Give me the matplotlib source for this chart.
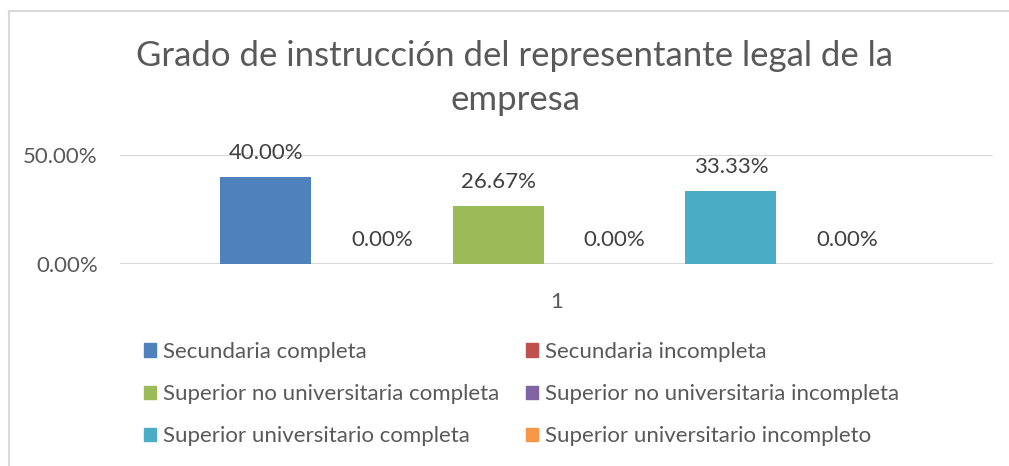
import matplotlib
matplotlib.use('Agg')
import matplotlib.pyplot as plt
from matplotlib.lines import Line2D
from matplotlib.patches import Patch
import numpy as np

plt.rcParams['font.family'] = ['Lato', 'DejaVu Sans']

titulo = "Grado de instrucción del representante legal de la\nempresa"
categorias = ["1"]
series = ["Secundaria completa", "Secundaria incompleta",
          "Superior no universitaria completa", "Superior no universitaria incompleta",
          "Superior universitario completa", "Superior universitario incompleto"]
valores = [0.40, 0.0, 0.2667, 0.0, 0.3333, 0.0]
colores = ["#4f81bd", "#c0504d", "#9bbb59", "#8064a2", "#4bacc6", "#f79646"]
yticks = [0.0, 0.5]

W, H = 1009, 466
fig = plt.figure(figsize=(W / 100, H / 100), dpi=100)
gris = "#595959"

# plot area en pixeles: x 120..993, y 155..264
ax = fig.add_axes([120 / W, 1 - 264 / H, 873 / W, 109 / H])

paso = 116.25 / 873
ancho = 91 / 873
for i, (nombre, v, c) in enumerate(zip(series, valores, colores)):
    x = (i - 2.5) * paso
    ax.bar(x, v, width=ancho, color=c, label=nombre, zorder=3)
    ax.text(x, v + 0.11, f"{v * 100:.2f}%", ha='center', va='center',
            fontsize=16, color="#404040")

ax.set_xlim(-0.5, 0.5)
ax.set_ylim(0, 0.5)
ax.set_yticks(yticks)
ax.set_yticklabels([f"{t * 100:.2f}%" for t in yticks], fontsize=16, color=gris)
ax.set_xticks([0])
ax.set_xticklabels(categorias, fontsize=16, color=gris)
ax.tick_params(length=0, axis='y', pad=16)
ax.tick_params(length=0, axis='x', pad=20)
for s in ax.spines.values():
    s.set_visible(False)
ax.grid(axis='y', color="#d9d9d9", linewidth=1.5, zorder=0)
ax.set_axisbelow(True)

fig.text(515 / W, 1 - 78 / H, titulo, ha='center', va='center', fontsize=25,
         color=gris, linespacing=1.45)

# borde del grafico
fig.add_artist(Line2D([8.5 / W, 8.5 / W], [0, 1 - 11 / H], color="#d9d9d9", lw=1.5))
fig.add_artist(Line2D([8.5 / W, 1], [1 - 11 / H, 1 - 11 / H], color="#d9d9d9", lw=1.5))

# leyenda por filas (2 columnas)
orden = [0, 2, 4, 1, 3, 5]
handles = [Patch(color=colores[k]) for k in orden]
etiquetas = [series[k] for k in orden]
leg = fig.legend(handles, etiquetas, ncol=2, loc='upper left',
                 bbox_to_anchor=(124 / W, 1 - 322 / H), frameon=False,
                 fontsize=16, handlelength=0.55, handleheight=0.55,
                 handletextpad=0.3, columnspacing=1.2, labelspacing=1.0)
for t in leg.get_texts():
    t.set_color(gris)

fig.savefig("out.png", dpi=100)
